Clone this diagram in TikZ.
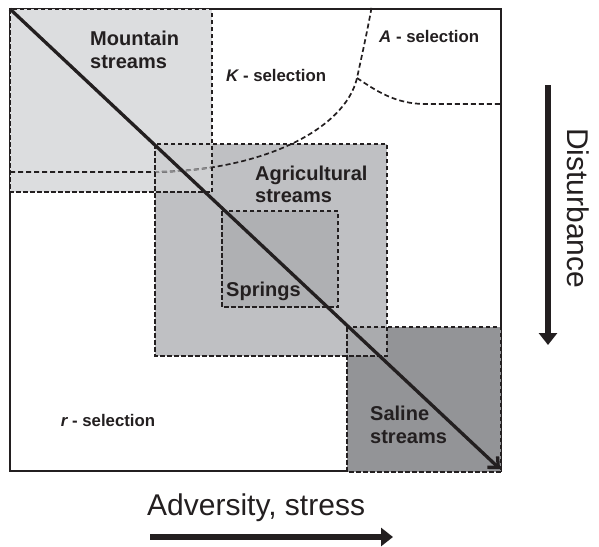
\documentclass[tikz,border=0pt]{standalone}
\usepackage{fontspec}
\setmainfont{Liberation Sans}
\usetikzlibrary{arrows.meta}
\definecolor{ink}{HTML}{231F20}
\definecolor{mtn}{HTML}{DCDDDF}
\definecolor{agr}{HTML}{BFC0C3}
\definecolor{spr}{HTML}{AFB0B3}
\definecolor{sal}{HTML}{939497}
\definecolor{ovA}{HTML}{CFD0D2}
\definecolor{ovB}{HTML}{AAABAE}
\definecolor{fadeline}{HTML}{8A8A8C}
\begin{document}
\begin{tikzpicture}[x=1pt,y=-1pt,
 boxline/.style={draw=ink, line width=2pt, dash pattern=on 4.5pt off 2.5pt},
 curveline/.style={ink, line width=1.7pt, dash pattern=on 5pt off 3pt},
 lbl/.style={font=\fontsize{20}{24}\selectfont\bfseries, text=ink, inner sep=0pt, anchor=base west},
 sel/.style={font=\fontsize{16.8}{20}\selectfont\bfseries, text=ink, inner sep=0pt, anchor=base west},
 axislbl/.style={font=\fontsize{30}{36}\selectfont, text=ink, inner sep=0pt, anchor=base west},
 bigarrow/.style={ink, line width=5.5pt, -{Triangle[length=12pt,width=18pt]}}]
\useasboundingbox (0,0) rectangle (599,546);

% outer frame
\draw[ink, line width=1.3pt] (10,9) rectangle (501,471);

% fills
\fill[mtn] (10,9) rectangle (212,192);
\fill[agr] (155,144) rectangle (387,356);
\fill[sal] (347,327) rectangle (501,472);
\fill[ovA] (155,144) rectangle (212,192);
\fill[ovB] (347,327) rectangle (387,356);
\fill[spr] (222,211) rectangle (338,307);

% selection boundaries
\draw[curveline] (10,172) -- (150,172) .. controls (260,172) and (345,130) .. (357,78) .. controls (362,55) and (368,28) .. (372,5);
\draw[curveline] (357,78) .. controls (375,90) and (395,104) .. (425,104) -- (501,104);
\begin{scope}
\clip (155,144) rectangle (212,192);
\draw[curveline, draw=fadeline] (10,172) -- (150,172) .. controls (260,172) and (345,130) .. (357,78);
\end{scope}

% dashed outlines
\draw[boxline] (10,9) rectangle (212,192);
\draw[boxline] (155,144) rectangle (387,356);
\draw[boxline] (347,327) rectangle (501,472);
\draw[boxline] (222,211) rectangle (338,307);

% diagonal arrow
\coordinate (tl) at (10,9);
\coordinate (br) at (500,469);
\draw[ink, line width=3.3pt, -{Straight Barb[length=8pt,width=15pt]}] (tl) -- (br);

% labels
\node[lbl] (m1) at (90,45.7) {Mountain};
\node[lbl] (m2) at (90,68) {streams};
\node[lbl] (ag1) at (255,180) {Agricultural};
\node[lbl] (ag2) at (255,202.7) {streams};
\node[lbl] (sp) at (226,296) {Springs};
\node[lbl] (sa1) at (370,420) {Saline};
\node[lbl] (sa2) at (370,443) {streams};
\node[sel] (ks) at (226,81) {\itshape K\upshape{} - selection};
\node[sel] (as) at (379,42.7) {\itshape A\upshape{} - selection};
\node[sel] (rs) at (60.7,426.7) {\itshape r\upshape{} - selection};

% axes
\node[axislbl] (adv) at (147,515) {Adversity, stress};
\coordinate (aL) at (150,537);
\coordinate (aR) at (393,537);
\draw[bigarrow] (aL) -- (aR);
\node[axislbl, rotate=-90] (dist) at (567,128) {Disturbance};
\coordinate (dTop) at (548,85);
\coordinate (dBot) at (548,345);
\draw[bigarrow] (dTop) -- (dBot);
\end{tikzpicture}
\end{document}
